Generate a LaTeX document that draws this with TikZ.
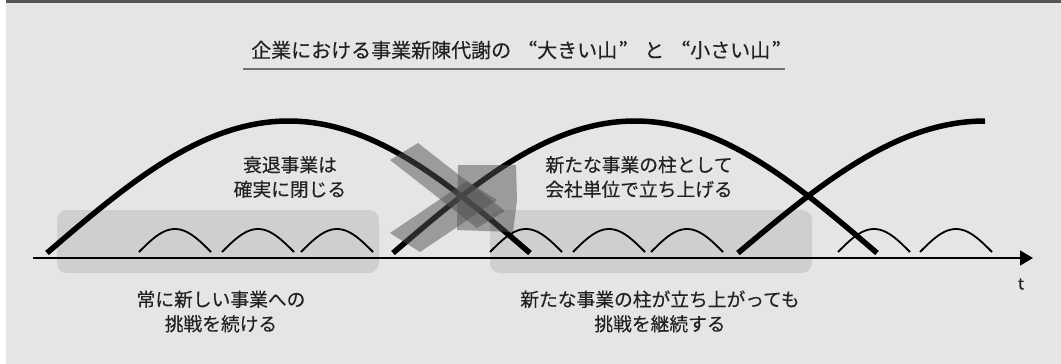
\documentclass[tikz,border=0pt]{standalone}
\usepackage{fontspec}
\newfontfamily\jp[FakeBold=0.3]{Noto Sans CJK JP}
\newfontfamily\jpfw[RawFeature=+fwid, FakeBold=0.3]{Noto Sans CJK JP}
\usetikzlibrary{arrows.meta}
\definecolor{bg}{HTML}{E5E5E5}
\definecolor{boxgray}{HTML}{CFCFCF}
\definecolor{topbar}{HTML}{555555}
\definecolor{xgray}{HTML}{525252}
\definecolor{txt}{HTML}{222222}
\definecolor{uline}{HTML}{707070}
\tikzset{
  bigarc/.style={line width=5.5pt, line cap=butt, draw=black},
  smallarc/.style={line width=1.8pt, draw=black},
  zone/.style={fill=boxgray, rounded corners=10pt, draw=none},
  lbl/.style={font=\jp\fontsize{18.75}{24.5}\selectfont, align=center, text=txt, inner sep=0pt},
  ttl/.style={font=\jpfw\fontsize{20}{24}\selectfont, text=txt, inner sep=0pt},
  xshape/.style={fill=xgray, fill opacity=0.5, draw=none},
  axisline/.style={line width=1.5pt, -{Triangle[length=13pt, width=15pt]}},
}
\newcommand{\smallhill}[1]{\draw[smallarc] plot[domain=0:180, samples=30, variable=\t] ({#1+0.4*\t}, {252-23*sin(\t)});}
\begin{document}
\begin{tikzpicture}[x=1pt, y=-1pt]
\useasboundingbox (0,0) rectangle (1061,364);
\fill[white] (0,0) rectangle (1061,364);
\fill[bg] (6,2.5) rectangle (1061,364);
\fill[topbar] (6,0) rectangle (1061,2.5);
% title
\node[ttl, anchor=west] (title) at (251,50) {企業における事業新陳代謝の\kern6pt“大きい山\kern2pt”\kern5pt と\kern6pt“小さい山\kern2pt”};
\coordinate (ul0) at (243,69);
\coordinate (ul1) at (785,69);
\draw[uline, line width=1.5pt] (ul0) -- (ul1);
% zones
\fill[zone] (57,210) rectangle (379,273);
\fill[zone] (490,210) rectangle (812,273);
% axis
\coordinate (ax0) at (33,258);
\coordinate (ax1) at (1033,258);
\draw[axisline] (ax0) -- (ax1);
\node[font=\jp\fontsize{16}{18}\selectfont, text=txt, inner sep=0pt] (tl) at (1021,284) {t};
% small hills
\smallhill{139}
\smallhill{222}
\smallhill{301}
\smallhill{490}
\smallhill{573}
\smallhill{651}
\smallhill{838}
\smallhill{920}
% big hills
\draw[bigarc] plot[domain=0:180, samples=80, variable=\t] ({47+2.68333*\t}, {253-132*sin(\t)});
\draw[bigarc] plot[domain=0:180, samples=80, variable=\t] ({393+2.68889*\t}, {253-132*sin(\t)});
\draw[bigarc] plot[domain=0:90, samples=50, variable=\t] ({738+2.74444*\t}, {253-132*sin(\t)});
% gray cross mark
\fill[xshape] (390,160) -- (418,143) -- (505,211) -- (477,228) -- cycle;
\fill[xshape] (390,233) -- (420,252) -- (497,200) -- (467,181) -- cycle;
\fill[xshape] (458,165) -- (516,165) -- (517,200) -- (513,232) -- (457,230) -- cycle;
% labels
\node[lbl] (t1) at (290,177) {衰退事業は\\確実に閉じる};
\node[lbl] (t2) at (639,177) {新たな事業の柱として\\会社単位で立ち上げる};
\node[lbl] (t3) at (221,311.5) {常に新しい事業への\\挑戦を続ける};
\node[lbl] (t4) at (660,311.5) {新たな事業の柱が立ち上がっても\\挑戦を継続する};
\end{tikzpicture}
\end{document}
